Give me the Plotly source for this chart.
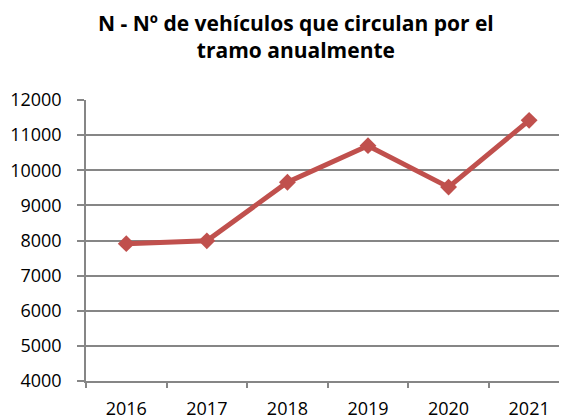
import plotly.graph_objects as go

years = ["2016", "2017", "2018", "2019", "2020", "2021"]
vehicles = [7910, 7990, 9660, 10700, 9520, 11420]
y_ticks = [4000, 5000, 6000, 7000, 8000, 9000, 10000, 11000, 12000]
title_text = "<b>N - Nº de vehículos que circulan por el<br>tramo anualmente</b>"

fig = go.Figure()
fig.add_trace(go.Scatter(
    x=years, y=vehicles, mode="lines+markers",
    line=dict(color="#C0504D", width=5),
    marker=dict(symbol="diamond", size=13, color="#C0504D"),
    showlegend=False,
))

fig.update_layout(
    width=559, height=411,
    margin=dict(l=78, r=0, t=92, b=38, autoexpand=False),
    paper_bgcolor="white", plot_bgcolor="white",
    font=dict(family="Open Sans", color="black"),
)
fig.add_annotation(
    text=title_text, xref="paper", yref="paper",
    x=(288 - 78) / 481, y=1 + 92 / 281, xanchor="center", yanchor="top",
    borderpad=0, showarrow=False,
    font=dict(size=21, family="Open Sans", color="black"),
)
fig.update_xaxes(
    type="category", range=[-0.5, 5.47], automargin=False,
    showline=True, linecolor="#868686", linewidth=1.5,
    ticks="outside", tickson="boundaries", ticklen=5, tickcolor="#868686", tickwidth=1.5,
    showgrid=False, tickfont=dict(size=18), ticklabelstandoff=11,
)
fig.update_yaxes(
    range=[4000, 12000], tickvals=y_ticks, tickformat="d", automargin=False,
    showline=True, linecolor="#868686", linewidth=1.5,
    ticks="outside", ticklen=7, tickcolor="#868686", tickwidth=1.5,
    showgrid=True, gridcolor="#868686", gridwidth=1.5,
    tickfont=dict(size=18), zeroline=False, ticklabelstandoff=12,
)

fig.write_html("out.html")
